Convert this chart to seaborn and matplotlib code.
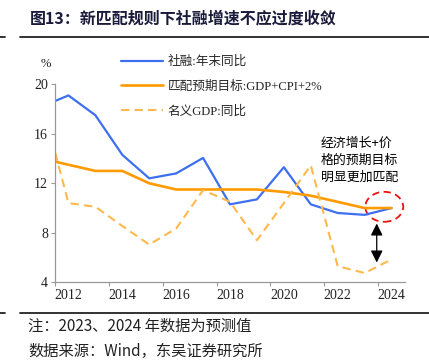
import numpy as np
import pandas as pd
import matplotlib
matplotlib.use("Agg")
import matplotlib.pyplot as plt
from matplotlib.patches import Ellipse
import seaborn as sns

# data; 2011 only feeds the clipped left edge
years = [2011, 2012, 2013, 2014, 2015, 2016, 2017, 2018, 2019, 2020, 2021, 2022, 2023, 2024]
tsf_growth = [18.2, 19.1, 17.5, 14.3, 12.4, 12.8, 14.05, 10.3, 10.7, 13.3, 10.3, 9.6, 9.45, 10.0]
target_growth = [14.0, 13.5, 13.0, 13.0, 12.0, 11.5, 11.5, 11.5, 11.5, 11.3, 11.0, 10.5, 10.0, 10.0]
nominal_gdp = [18.7, 10.4, 10.1, 8.55, 7.05, 8.35, 11.45, 10.5, 7.4, 10.4, 13.45, 5.3, 4.75, 5.85]

series_names = ["社融:年末同比", "匹配预期目标:GDP+CPI+2%", "名义GDP:同比"]
tick_years = [2012, 2014, 2016, 2018, 2020, 2022, 2024]
y_ticks = [4, 8, 12, 16, 20]

title = "图13：新匹配规则下社融增速不应过度收敛"
note = "注：2023、2024 年数据为预测值"
source = "数据来源：Wind，东吴证券研究所"
callout = "经济增长+价\n格的预期目标\n明显更加匹配"

df = pd.DataFrame({"year": years, series_names[0]: tsf_growth,
                   series_names[1]: target_growth, series_names[2]: nominal_gdp})

sns.set_theme(style="white")
plt.rcParams["font.family"] = ["Liberation Serif", "Noto Sans CJK SC", "DejaVu Sans"]
cjk = ["Noto Sans CJK SC", "DejaVu Sans"]

fig = plt.figure(figsize=(4.29, 3.62), dpi=100)
ax = fig.add_axes([55 / 429, 1 - 282.3 / 362, 350 / 429, 198 / 362])

sns.lineplot(data=df, x="year", y=series_names[0], ax=ax, color="#3d6ff0", lw=1.6, label=series_names[0])
sns.lineplot(data=df, x="year", y=series_names[1], ax=ax, color="#ff9a00", lw=1.9, label=series_names[1])
sns.lineplot(data=df, x="year", y=series_names[2], ax=ax, color="#ffb84d", lw=1.5,
             linestyle=(0, (4, 2.5)), label=series_names[2])

ax.set_xlim(2011.5, 2024.5)
ax.set_ylim(4, 20)
ax.set_xlabel("")
ax.set_ylabel("")
ax.set_xticks(tick_years)
ax.set_xticklabels([str(y) for y in tick_years])
ax.set_xticks(np.arange(2011.5, 2024, 2), minor=True)
ax.set_yticks(y_ticks)
ax.tick_params(axis="x", which="major", length=0, pad=5, labelsize=10, colors="#222222")
ax.tick_params(axis="x", which="minor", length=3, width=0.8, color="#999999", direction="out", bottom=True)
ax.tick_params(axis="y", length=3, width=0.8, color="#999999", direction="out", left=True,
               labelsize=10, labelcolor="#222222", pad=2)
for side in ["top", "right"]:
    ax.spines[side].set_visible(False)
for side in ["left", "bottom"]:
    ax.spines[side].set_color("#999999")
    ax.spines[side].set_linewidth(0.9)

handles, labels = ax.get_legend_handles_labels()
ax.get_legend().remove()
fig.legend(handles, labels, loc="upper left", bbox_to_anchor=(121 / 429, 1 - 56 / 362),
           frameon=False, fontsize=9.1, handlelength=3.3, handletextpad=0.4,
           labelspacing=0.98, borderpad=0, borderaxespad=0)

fig.text(46 / 429, 1 - 64 / 362, "%", fontsize=9, ha="center", va="center", color="#222222")

# callout: text, dashed ellipse, double arrow
ax.text(2021.38, 15.75, callout, fontsize=9.3, family=cjk, va="top", ha="left",
        linespacing=1.38, color="black")
ax.add_patch(Ellipse((2023.73, 10.1), 1.41, 2.42, fill=False, edgecolor="#ee1111",
                     lw=1.3, linestyle=(0, (4, 2.5)), clip_on=False))
ax.annotate("", xy=(2023.45, 5.6), xytext=(2023.45, 8.75),
            arrowprops=dict(arrowstyle="<|-|>,head_length=0.6,head_width=0.3",
                            color="black", lw=0.9, shrinkA=0, shrinkB=0))

# header and footer
fig.text(30 / 429, 1 - 18 / 362, title, fontsize=11.5, family=cjk, fontweight="bold",
         color="#1a1a3a", va="center", ha="left")
for y in [36.5, 313.3]:
    fig.add_artist(plt.Line2D([20 / 429, 1], [1 - y / 362] * 2, color="#222222", lw=1.3))
    fig.add_artist(plt.Line2D([0, 5 / 429], [1 - y / 362] * 2, color="#222222", lw=1.3))
fig.text(28 / 429, 1 - 326 / 362, note, fontsize=11, family=cjk, color="#222222", va="center")
fig.text(28 / 429, 1 - 351 / 362, source, fontsize=11, family=cjk, color="#222222", va="center")

fig.savefig("out.png", dpi=100)
